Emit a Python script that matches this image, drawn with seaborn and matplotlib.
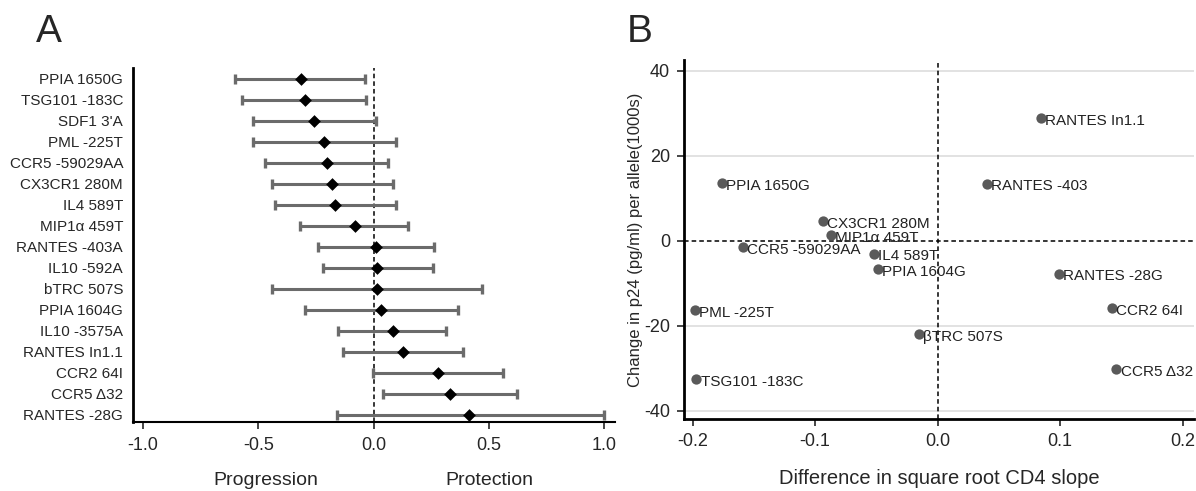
import matplotlib
matplotlib.use('Agg')
import matplotlib.pyplot as plt
import pandas as pd
import seaborn as sns

# Panel A: effect estimates with intervals
snps_a = ['PPIA 1650G', 'TSG101 -183C', "SDF1 3'A", 'PML -225T', 'CCR5 -59029AA',
          'CX3CR1 280M', 'IL4 589T', 'MIP1\u03b1 459T', 'RANTES -403A', 'IL10 -592A',
          'bTRC 507S', 'PPIA 1604G', 'IL10 -3575A', 'RANTES In1.1', 'CCR2 64I',
          'CCR5 \u039432', 'RANTES -28G']
est_a = [-0.316, -0.30, -0.26, -0.216, -0.203, -0.18, -0.168, -0.083, 0.01, 0.013,
         0.015, 0.03, 0.082, 0.127, 0.277, 0.33, 0.415]
lo_a = [-0.60, -0.57, -0.525, -0.525, -0.47, -0.44, -0.43, -0.32, -0.24, -0.22,
        -0.44, -0.30, -0.155, -0.134, -0.005, 0.04, -0.16]
hi_a = [-0.04, -0.035, 0.01, 0.095, 0.06, 0.083, 0.095, 0.148, 0.26, 0.255,
        0.47, 0.365, 0.315, 0.385, 0.56, 0.62, 1.0]

# Panel B: scatter of CD4 slope difference vs p24 change
snps_b = ['RANTES In1.1', 'RANTES -403', 'PPIA 1650G', 'CX3CR1 280M', 'MIP1\u03b1 459T',
          'CCR5 -59029AA', 'IL4 589T', 'PPIA 1604G', 'RANTES -28G', 'CCR2 64I',
          'PML -225T', '\u03b2TRC 507S', 'TSG101 -183C', 'CCR5 \u039432']
cd4_b = [0.084, 0.040, -0.176, -0.0935, -0.087, -0.159, -0.052, -0.049, 0.099, 0.142,
         -0.198, -0.015, -0.197, 0.146]
p24_b = [28.8, 13.4, 13.6, 4.5, 1.2, -1.6, -3.1, -6.8, -7.8, -15.9, -16.4, -22.0, -32.6, -30.2]

sns.set_style('white')
plt.rcParams['font.family'] = ['Liberation Sans', 'DejaVu Sans']

df_a = pd.DataFrame({'snp': snps_a, 'est': est_a, 'lo': lo_a, 'hi': hi_a})
df_a['pos'] = range(len(df_a))
df_b = pd.DataFrame({'snp': snps_b, 'cd4': cd4_b, 'p24': p24_b})

fig = plt.figure(figsize=(11.96, 4.91), dpi=100)
ax1 = fig.add_axes([0.111, 0.1405, 0.403, 0.721])
ax2 = fig.add_axes([0.572, 0.1466, 0.426, 0.7314])

dash = (0, (3, 2))

# --- Panel A ---
ax1.axvline(0, color='black', linestyle=dash, linewidth=1.1, zorder=1)
ax1.errorbar(df_a['est'], df_a['pos'],
             xerr=[df_a['est'] - df_a['lo'], df_a['hi'] - df_a['est']],
             fmt='none', ecolor='#6b6b6b', elinewidth=2.2, capsize=3.5, capthick=2.4, zorder=2)
sns.scatterplot(data=df_a, x='est', y='pos', marker='D', color='black', s=42,
                edgecolor='black', linewidth=0, ax=ax1, zorder=3)
ax1.set_xlim(-1.045, 1.045)
ax1.set_ylim(16.35, -0.52)
ax1.set_yticks(df_a['pos'])
ax1.set_yticklabels(df_a['snp'], fontsize=11)
ax1.set_xticks([-1.0, -0.5, 0.0, 0.5, 1.0])
ax1.set_xticklabels(['-1.0', '-0.5', '0.0', '0.5', '1.0'], fontsize=13)
ax1.tick_params(axis='x', direction='out', length=5, width=1.2, bottom=True, pad=6)
ax1.tick_params(axis='y', length=0, pad=7)
for side in ['top', 'right']:
    ax1.spines[side].set_visible(False)
ax1.spines['left'].set_linewidth(2)
ax1.spines['bottom'].set_linewidth(1.5)
ax1.spines['left'].set_color('black')
ax1.spines['bottom'].set_color('black')
ax1.set_xlabel('')
ax1.set_ylabel('')
ax1.text(-0.47, -0.14, 'Progression', transform=ax1.get_xaxis_transform(),
         ha='center', va='top', fontsize=14)
ax1.text(0.5, -0.14, 'Protection', transform=ax1.get_xaxis_transform(),
         ha='center', va='top', fontsize=14)

# --- Panel B ---
for yv in [40, 20, -20, -40]:
    ax2.axhline(yv, color='#dddddd', linewidth=1.2, zorder=0)
ax2.axhline(0, color='black', linestyle=dash, linewidth=1.1, zorder=1)
ax2.axvline(0, color='black', linestyle=dash, linewidth=1.1, zorder=1)
sns.scatterplot(data=df_b, x='cd4', y='p24', color='#5a5a5a', s=55, linewidth=0,
                ax=ax2, zorder=3)
for _, r in df_b.iterrows():
    ax2.annotate(r['snp'], (r['cd4'], r['p24']), xytext=(3, -2), textcoords='offset points',
                 ha='left', va='center', fontsize=11, color='#222222')
ax2.set_xlim(-0.207, 0.209)
ax2.set_ylim(-42, 42.5)
ax2.set_xticks([-0.2, -0.1, 0.0, 0.1, 0.2])
ax2.set_xticklabels(['-0.2', '-0.1', '0.0', '0.1', '0.2'], fontsize=13)
ax2.set_yticks([-40, -20, 0, 20, 40])
ax2.set_yticklabels(['-40', '-20', '0', '20', '40'], fontsize=13)
ax2.tick_params(axis='both', direction='out', length=5, width=1.2, bottom=True, left=True, pad=5)
for side in ['top', 'right']:
    ax2.spines[side].set_visible(False)
ax2.spines['left'].set_linewidth(2)
ax2.spines['bottom'].set_linewidth(2)
ax2.spines['left'].set_color('black')
ax2.spines['bottom'].set_color('black')
ax2.set_xlabel('Difference in square root CD4 slope', fontsize=14.5, labelpad=14)
ax2.set_ylabel('Change in p24 (pg/ml) per allele(1000s)', fontsize=12, labelpad=1)

fig.text(0.030, 0.914, 'A', fontsize=28, ha='left', va='baseline')
fig.text(0.524, 0.914, 'B', fontsize=28, ha='left', va='baseline')

fig.savefig('out.png', dpi=100)
